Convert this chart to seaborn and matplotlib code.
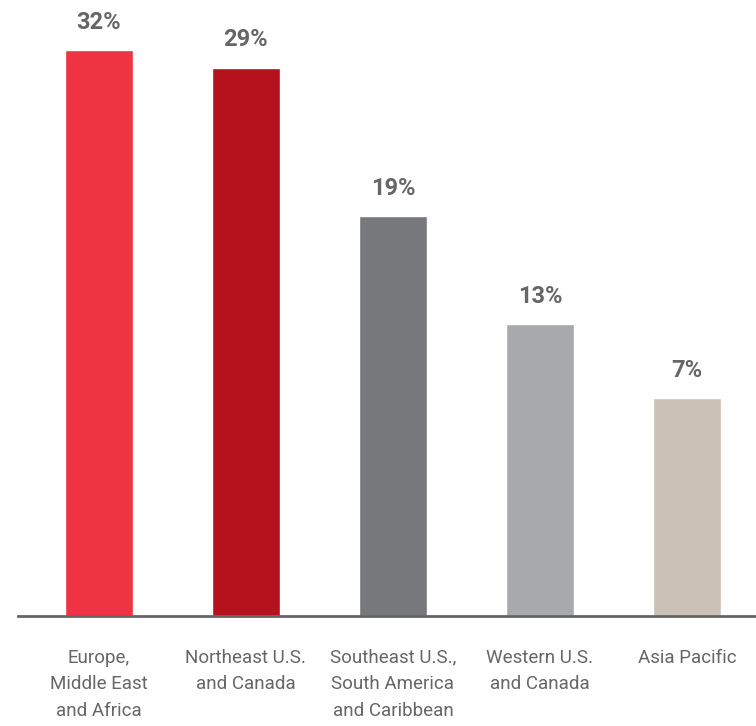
import pandas as pd
import matplotlib.pyplot as plt
import seaborn as sns

regions = ["Europe,\nMiddle East\nand Africa", "Northeast U.S.\nand Canada",
           "Southeast U.S.,\nSouth America\nand Caribbean", "Western U.S.\nand Canada",
           "Asia Pacific"]
shares = [32, 29, 19, 13, 7]
# bar heights as drawn in the original (it is not drawn to scale)
bar_heights = [32, 31.0, 22.6, 16.5, 12.3]
colors = ["#EE3342", "#B5121E", "#77787B", "#A7A9AC", "#CBC1B5"]

df = pd.DataFrame({"region": regions, "height": bar_heights})

sns.set_style("white")
plt.rcParams['font.family'] = ['Liberation Sans Narrow', 'Roboto', 'DejaVu Sans']
text_grey = "#666666"

fig = plt.figure(figsize=(7.56, 7.26), dpi=100)
ax = fig.add_axes([18 / 756, 1 - 616 / 726, 1 - 18 / 756, 616 / 726])

sns.barplot(data=df, x="region", y="height", hue="region", palette=colors,
            legend=False, width=0.46, saturation=1, ax=ax)

for i, (h, s) in enumerate(zip(bar_heights, shares)):
    ax.annotate(f"{s}%", (i, h), xytext=(0, 20), textcoords="offset points",
                ha="center", va="center", fontsize=17, fontweight="bold",
                color=text_grey)

ax.set_xlim(-0.55, 4.47)
ax.set_ylim(0, 32 * 616 / 566)
ax.set_xlabel("")
ax.set_ylabel("")
ax.set_yticks([])
ax.set_xticks(range(len(regions)))
ax.set_xticklabels(regions, linespacing=1.62, fontsize=13.5, color=text_grey)
ax.tick_params(axis="x", length=0, pad=23.5)

for side in ["top", "right", "left"]:
    ax.spines[side].set_visible(False)
ax.spines["bottom"].set_color("#666666")
ax.spines["bottom"].set_linewidth(2)

fig.savefig("out.png", dpi=100)
